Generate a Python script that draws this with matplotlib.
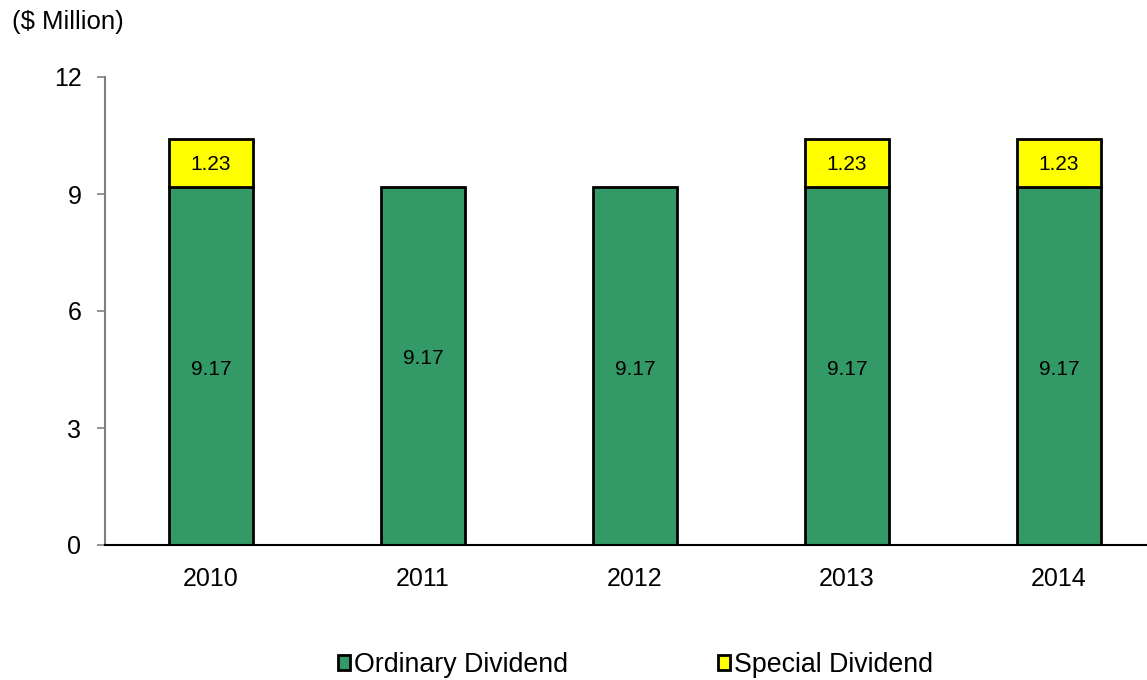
import numpy as np
import matplotlib
import matplotlib.pyplot as plt
from matplotlib.patches import Patch

matplotlib.use("agg")
plt.rcParams['font.family'] = ['Liberation Sans', 'DejaVu Sans']

years = ["2010", "2011", "2012", "2013", "2014"]
ordinary = [9.17, 9.17, 9.17, 9.17, 9.17]
special = [1.23, 0, 0, 1.23, 1.23]

green = "#339966"
yellow = "#ffff00"

fig = plt.figure(figsize=(11.47, 6.8), dpi=100)
ax = fig.add_axes([105 / 1147, 135 / 680, 1 - 105 / 1147, (545 - 77) / 680])

x = np.arange(len(years))
b1 = ax.bar(x, ordinary, width=0.4, color=green, edgecolor="black", linewidth=2)
b2 = ax.bar(x, special, width=0.4, bottom=ordinary, color=yellow, edgecolor="black", linewidth=2)
for i, s in enumerate(special):
    if s == 0:
        b2[i].set_visible(False)

# value labels
for i, v in enumerate(ordinary):
    off = 0.2 if i == 1 else -0.08  # 2011 label sits a little higher in the original
    ax.text(x[i], v / 2 + off, f"{v:.2f}", ha="center", va="center", fontsize=15)
for i, s in enumerate(special):
    if s > 0:
        ax.text(x[i], ordinary[i] + s / 2 - 0.03, f"{s:.2f}", ha="center", va="center", fontsize=15)

ax.set_xlim(-0.5, (1147 - 211) / 212)
ax.set_ylim(0, 12)
ax.set_yticks([0, 3, 6, 9, 12])
ax.set_xticks(x)
ax.set_xticklabels(years)
ax.tick_params(axis="x", length=0, pad=16, labelsize=18)
ax.tick_params(axis="y", length=6, width=1.2, color="#808080", pad=11, labelsize=18, direction="out")

for s in ["top", "right"]:
    ax.spines[s].set_visible(False)
ax.spines["left"].set_color("#808080")
ax.spines["left"].set_linewidth(1.5)
ax.spines["bottom"].set_color("black")
ax.spines["bottom"].set_linewidth(1.5)

fig.text(12 / 1147, 1 - 22 / 680, "($ Million)", fontsize=18.5, ha="left", va="center")

handles = [Patch(facecolor=green, edgecolor="black", linewidth=2),
           Patch(facecolor=yellow, edgecolor="black", linewidth=2)]
fig.legend(handles, ["Ordinary Dividend", "Special Dividend"], ncol=2,
           loc="center left", bbox_to_anchor=(338 / 1147, 1 - 665 / 680),
           frameon=False, fontsize=19.3, handlelength=0.45, handleheight=0.45,
           handletextpad=0.15, columnspacing=5.6, borderpad=0, borderaxespad=0)

fig.savefig("out.png", dpi=100)
plt.close()
